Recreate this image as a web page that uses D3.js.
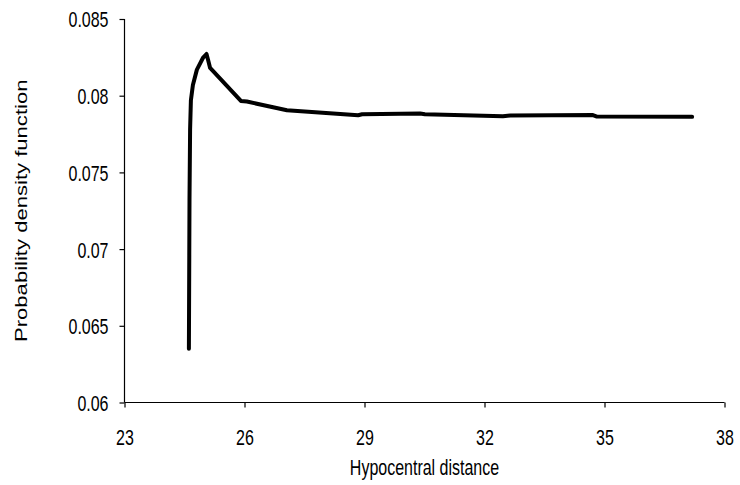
<!DOCTYPE html>
<html>
<head>
<meta charset="utf-8">
<script src="https://cdn.jsdelivr.net/npm/d3@7"></script>
<style>
  html, body { margin: 0; padding: 0; background: #fff; }
  svg { display: block; }
  text { font-family: "Liberation Sans", Arial, sans-serif; fill: #000; }
</style>
</head>
<body>
<svg id="chart" width="740" height="485"></svg>
<script>
// Data
const distance = [24.61, 24.625, 24.64, 24.66, 24.71, 24.81, 24.96, 25.05, 25.09, 25.14, 25.91, 26.06, 27.06, 28.84, 28.94, 30.39, 30.51, 32.46, 32.64, 34.71, 34.81, 37.19];
const pdf      = [0.0635, 0.0732, 0.0778, 0.0797, 0.0807, 0.0817, 0.08246, 0.08272, 0.08233, 0.08181, 0.07966, 0.07962, 0.07905, 0.07873, 0.07879, 0.07884, 0.07879, 0.07866, 0.07871, 0.07874, 0.07864, 0.07862];
const xTicks = [23, 26, 29, 32, 35, 38];
const yTicks = [0.06, 0.065, 0.07, 0.075, 0.08, 0.085];
const xLabel = "Hypocentral distance";
const yLabel = "Probability density function";

const TS = 1.38; // vertical stretch of text seen in the reference
const svg = d3.select("#chart");
const x = d3.scaleLinear().domain([23, 38]).range([124.5, 724.5]);
const y = d3.scaleLinear().domain([0.06, 0.085]).range([402.5, 19]);

const xAxis = d3.axisBottom(x).tickValues(xTicks).tickSize(5).tickFormat(d3.format("d"));
const yAxis = d3.axisLeft(y).tickValues(yTicks).tickSize(5).tickPadding(11).tickFormat(d => String(+d.toFixed(3)));

const gx = svg.append("g").attr("transform", `translate(0,${y.range()[0]})`).call(xAxis);
const gy = svg.append("g").attr("transform", `translate(${x.range()[0]},0)`).call(yAxis);
[gx, gy].forEach(g => {
  g.select(".domain").attr("stroke", "#000").attr("stroke-width", 1.2);
  g.selectAll(".tick line").attr("stroke", "#000").attr("stroke-width", 1.2);
  g.selectAll(".tick text").attr("font-size", 16).attr("font-family", "'Liberation Sans', Arial, sans-serif").attr("fill", "#000");
});
gx.select(".domain").attr("d", `M${x.range()[0]},0H${x.range()[1]}`);
gy.select(".domain").attr("d", `M0,${y.range()[0]}V${y.range()[1]}`);

gx.selectAll(".tick text")
  .attr("y", 0).attr("dy", "0.36em")
  .attr("transform", `translate(0,35) scale(1,${TS})`);
gy.selectAll(".tick text")
  .attr("dy", "0.36em")
  .attr("transform", `scale(1,${TS})`);

svg.append("text")
  .attr("transform", `translate(${(x.range()[0] + x.range()[1]) / 2},467) scale(1,${TS})`)
  .attr("dy", "0.36em")
  .attr("text-anchor", "middle")
  .attr("font-size", 16)
  .text(xLabel);

svg.append("text")
  .attr("transform", `translate(27,${(y.range()[0] + y.range()[1]) / 2}) scale(1,${TS}) rotate(-90)`)
  .attr("text-anchor", "middle")
  .attr("font-size", 16)
  .text(yLabel);

const line = d3.line().x((d, i) => x(distance[i])).y(d => y(d)).curve(d3.curveLinear);
svg.append("path")
  .datum(pdf)
  .attr("d", line)
  .attr("fill", "none")
  .attr("stroke", "#000")
  .attr("stroke-width", 4)
  .attr("stroke-linejoin", "round")
  .attr("stroke-linecap", "round");
</script>
</body>
</html>
